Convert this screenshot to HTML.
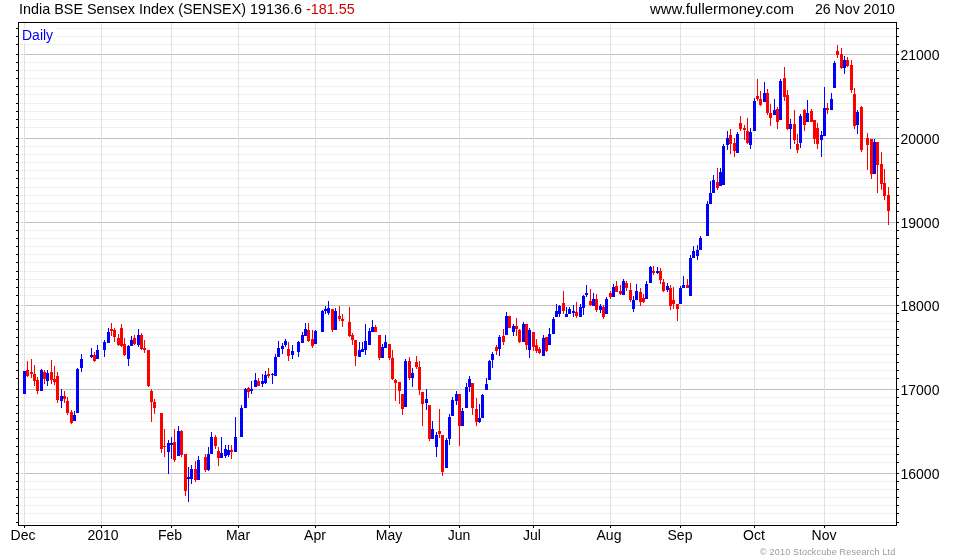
<!DOCTYPE html>
<html><head><meta charset="utf-8"><title>India BSE Sensex Index (SENSEX)</title>
<style>
html,body{margin:0;padding:0;background:#fff}
body{width:980px;height:560px;position:relative;overflow:hidden;font-family:"Liberation Sans",Arial,sans-serif}
.t{position:absolute;white-space:nowrap;font-size:14px;line-height:16px;color:#000}
</style></head><body>
<svg width="980" height="560" viewBox="0 0 980 560" shape-rendering="crispEdges" style="position:absolute;left:0;top:0">
<g fill="#f0f0f0">
<rect x="20" y="28" width="875" height="1"/>
<rect x="20" y="36" width="875" height="1"/>
<rect x="20" y="44" width="875" height="1"/>
<rect x="20" y="62" width="875" height="1"/>
<rect x="20" y="70" width="875" height="1"/>
<rect x="20" y="78" width="875" height="1"/>
<rect x="20" y="86" width="875" height="1"/>
<rect x="20" y="94" width="875" height="1"/>
<rect x="20" y="103" width="875" height="1"/>
<rect x="20" y="111" width="875" height="1"/>
<rect x="20" y="119" width="875" height="1"/>
<rect x="20" y="127" width="875" height="1"/>
<rect x="20" y="146" width="875" height="1"/>
<rect x="20" y="154" width="875" height="1"/>
<rect x="20" y="162" width="875" height="1"/>
<rect x="20" y="170" width="875" height="1"/>
<rect x="20" y="178" width="875" height="1"/>
<rect x="20" y="187" width="875" height="1"/>
<rect x="20" y="195" width="875" height="1"/>
<rect x="20" y="203" width="875" height="1"/>
<rect x="20" y="211" width="875" height="1"/>
<rect x="20" y="230" width="875" height="1"/>
<rect x="20" y="238" width="875" height="1"/>
<rect x="20" y="246" width="875" height="1"/>
<rect x="20" y="254" width="875" height="1"/>
<rect x="20" y="262" width="875" height="1"/>
<rect x="20" y="271" width="875" height="1"/>
<rect x="20" y="279" width="875" height="1"/>
<rect x="20" y="287" width="875" height="1"/>
<rect x="20" y="295" width="875" height="1"/>
<rect x="20" y="313" width="875" height="1"/>
<rect x="20" y="321" width="875" height="1"/>
<rect x="20" y="329" width="875" height="1"/>
<rect x="20" y="337" width="875" height="1"/>
<rect x="20" y="345" width="875" height="1"/>
<rect x="20" y="354" width="875" height="1"/>
<rect x="20" y="362" width="875" height="1"/>
<rect x="20" y="370" width="875" height="1"/>
<rect x="20" y="378" width="875" height="1"/>
<rect x="20" y="397" width="875" height="1"/>
<rect x="20" y="405" width="875" height="1"/>
<rect x="20" y="413" width="875" height="1"/>
<rect x="20" y="421" width="875" height="1"/>
<rect x="20" y="429" width="875" height="1"/>
<rect x="20" y="438" width="875" height="1"/>
<rect x="20" y="446" width="875" height="1"/>
<rect x="20" y="454" width="875" height="1"/>
<rect x="20" y="462" width="875" height="1"/>
<rect x="20" y="481" width="875" height="1"/>
<rect x="20" y="489" width="875" height="1"/>
<rect x="20" y="497" width="875" height="1"/>
<rect x="20" y="505" width="875" height="1"/>
<rect x="20" y="513" width="875" height="1"/>
<rect x="20" y="522" width="875" height="1"/>
</g>
<g fill="#c0c0c0">
<rect x="19" y="54" width="877" height="1"/>
<rect x="19" y="138" width="877" height="1"/>
<rect x="19" y="222" width="877" height="1"/>
<rect x="19" y="305" width="877" height="1"/>
<rect x="19" y="389" width="877" height="1"/>
<rect x="19" y="473" width="877" height="1"/>
</g>
<g fill="#dadada">
<rect x="19" y="54" width="5" height="1"/><rect x="895" y="54" width="1" height="1"/>
<rect x="19" y="138" width="5" height="1"/><rect x="895" y="138" width="1" height="1"/>
<rect x="19" y="222" width="5" height="1"/><rect x="895" y="222" width="1" height="1"/>
<rect x="19" y="305" width="5" height="1"/><rect x="895" y="305" width="1" height="1"/>
<rect x="19" y="389" width="5" height="1"/><rect x="895" y="389" width="1" height="1"/>
<rect x="19" y="473" width="5" height="1"/><rect x="895" y="473" width="1" height="1"/>
</g>
<g fill="#e0e0e0">
<rect x="24" y="23" width="1" height="502"/>
<rect x="101" y="23" width="1" height="502"/>
<rect x="171" y="23" width="1" height="502"/>
<rect x="238" y="23" width="1" height="502"/>
<rect x="315" y="23" width="1" height="502"/>
<rect x="389" y="23" width="1" height="502"/>
<rect x="459" y="23" width="1" height="502"/>
<rect x="533" y="23" width="1" height="502"/>
<rect x="610" y="23" width="1" height="502"/>
<rect x="680" y="23" width="1" height="502"/>
<rect x="754" y="23" width="1" height="502"/>
<rect x="824" y="23" width="1" height="502"/>
</g>
<rect x="20" y="28" width="36" height="15" fill="#fff"/>
<g>
<g fill="#0000ff"><rect x="24" y="371" width="1" height="23"/><rect x="23" y="371" width="3" height="23"/></g>
<g fill="#ff0000"><rect x="27" y="361" width="1" height="16"/><rect x="26" y="370" width="3" height="6"/></g>
<g fill="#ff0000"><rect x="31" y="359" width="1" height="19"/><rect x="30" y="372" width="3" height="2"/></g>
<g fill="#ff0000"><rect x="34" y="365" width="1" height="21"/><rect x="33" y="374" width="3" height="7"/></g>
<g fill="#ff0000"><rect x="37" y="377" width="1" height="17"/><rect x="36" y="380" width="3" height="11"/></g>
<g fill="#0000ff"><rect x="41" y="369" width="1" height="22"/><rect x="40" y="370" width="3" height="21"/></g>
<g fill="#ff0000"><rect x="44" y="370" width="1" height="14"/><rect x="43" y="372" width="3" height="7"/></g>
<g fill="#0000ff"><rect x="47" y="370" width="1" height="16"/><rect x="46" y="373" width="3" height="8"/></g>
<g fill="#ff0000"><rect x="51" y="360" width="1" height="24"/><rect x="50" y="372" width="3" height="8"/></g>
<g fill="#ff0000"><rect x="54" y="366" width="1" height="19"/><rect x="53" y="379" width="3" height="3"/></g>
<g fill="#ff0000"><rect x="57" y="372" width="1" height="31"/><rect x="56" y="376" width="3" height="24"/></g>
<g fill="#0000ff"><rect x="61" y="389" width="1" height="19"/><rect x="60" y="396" width="3" height="5"/></g>
<g fill="#ff0000"><rect x="64" y="391" width="1" height="12"/><rect x="63" y="396" width="3" height="3"/></g>
<g fill="#ff0000"><rect x="67" y="397" width="1" height="18"/><rect x="66" y="401" width="3" height="12"/></g>
<g fill="#ff0000"><rect x="71" y="410" width="1" height="14"/><rect x="70" y="412" width="3" height="11"/></g>
<g fill="#0000ff"><rect x="74" y="411" width="1" height="10"/><rect x="73" y="415" width="3" height="6"/></g>
<g fill="#0000ff"><rect x="77" y="368" width="1" height="45"/><rect x="76" y="369" width="3" height="44"/></g>
<g fill="#0000ff"><rect x="81" y="354" width="1" height="18"/><rect x="80" y="359" width="3" height="9"/></g>
<g fill="#0000ff"><rect x="91" y="348" width="1" height="10"/><rect x="90" y="355" width="3" height="2"/></g>
<g fill="#ff0000"><rect x="94" y="352" width="1" height="10"/><rect x="93" y="355" width="3" height="6"/></g>
<g fill="#0000ff"><rect x="97" y="345" width="1" height="14"/><rect x="96" y="350" width="3" height="9"/></g>
<g fill="#0000ff"><rect x="104" y="340" width="1" height="17"/><rect x="103" y="342" width="3" height="8"/></g>
<g fill="#0000ff"><rect x="108" y="328" width="1" height="15"/><rect x="107" y="332" width="3" height="11"/></g>
<g fill="#ff0000"><rect x="111" y="323" width="1" height="13"/><rect x="110" y="329" width="3" height="2"/></g>
<g fill="#ff0000"><rect x="114" y="328" width="1" height="14"/><rect x="113" y="330" width="3" height="7"/></g>
<g fill="#ff0000"><rect x="118" y="334" width="1" height="12"/><rect x="117" y="338" width="3" height="7"/></g>
<g fill="#ff0000"><rect x="121" y="324" width="1" height="23"/><rect x="120" y="328" width="3" height="18"/></g>
<g fill="#ff0000"><rect x="124" y="338" width="1" height="18"/><rect x="123" y="344" width="3" height="11"/></g>
<g fill="#0000ff"><rect x="128" y="345" width="1" height="21"/><rect x="127" y="346" width="3" height="13"/></g>
<g fill="#0000ff"><rect x="131" y="336" width="1" height="10"/><rect x="130" y="340" width="3" height="6"/></g>
<g fill="#ff0000"><rect x="134" y="335" width="1" height="10"/><rect x="133" y="338" width="3" height="6"/></g>
<g fill="#0000ff"><rect x="138" y="329" width="1" height="18"/><rect x="137" y="335" width="3" height="10"/></g>
<g fill="#ff0000"><rect x="141" y="333" width="1" height="17"/><rect x="140" y="335" width="3" height="14"/></g>
<g fill="#ff0000"><rect x="144" y="340" width="1" height="13"/><rect x="143" y="348" width="3" height="2"/></g>
<g fill="#ff0000"><rect x="148" y="350" width="1" height="37"/><rect x="147" y="350" width="3" height="36"/></g>
<g fill="#ff0000"><rect x="151" y="389" width="1" height="33"/><rect x="150" y="391" width="3" height="11"/></g>
<g fill="#ff0000"><rect x="154" y="399" width="1" height="15"/><rect x="153" y="402" width="3" height="6"/></g>
<g fill="#ff0000"><rect x="161" y="413" width="1" height="40"/><rect x="160" y="413" width="3" height="36"/></g>
<g fill="#ff0000"><rect x="164" y="429" width="1" height="28"/><rect x="163" y="446" width="3" height="1"/></g>
<g fill="#0000ff"><rect x="168" y="440" width="1" height="34"/><rect x="167" y="443" width="3" height="9"/></g>
<g fill="#0000ff"><rect x="171" y="437" width="1" height="22"/><rect x="170" y="443" width="3" height="2"/></g>
<g fill="#ff0000"><rect x="174" y="429" width="1" height="33"/><rect x="173" y="442" width="3" height="18"/></g>
<g fill="#0000ff"><rect x="178" y="426" width="1" height="30"/><rect x="177" y="431" width="3" height="25"/></g>
<g fill="#ff0000"><rect x="181" y="430" width="1" height="27"/><rect x="180" y="431" width="3" height="24"/></g>
<g fill="#ff0000"><rect x="185" y="454" width="1" height="42"/><rect x="184" y="454" width="3" height="37"/></g>
<g fill="#0000ff"><rect x="188" y="467" width="1" height="35"/><rect x="187" y="477" width="3" height="2"/></g>
<g fill="#0000ff"><rect x="191" y="465" width="1" height="19"/><rect x="190" y="469" width="3" height="10"/></g>
<g fill="#ff0000"><rect x="195" y="461" width="1" height="21"/><rect x="194" y="469" width="3" height="11"/></g>
<g fill="#0000ff"><rect x="198" y="456" width="1" height="24"/><rect x="197" y="460" width="3" height="20"/></g>
<g fill="#ff0000"><rect x="205" y="454" width="1" height="18"/><rect x="204" y="457" width="3" height="13"/></g>
<g fill="#0000ff"><rect x="208" y="447" width="1" height="24"/><rect x="207" y="454" width="3" height="16"/></g>
<g fill="#0000ff"><rect x="211" y="432" width="1" height="22"/><rect x="210" y="437" width="3" height="17"/></g>
<g fill="#ff0000"><rect x="215" y="435" width="1" height="14"/><rect x="214" y="437" width="3" height="9"/></g>
<g fill="#ff0000"><rect x="218" y="447" width="1" height="19"/><rect x="217" y="451" width="3" height="7"/></g>
<g fill="#0000ff"><rect x="221" y="437" width="1" height="21"/><rect x="220" y="453" width="3" height="5"/></g>
<g fill="#0000ff"><rect x="225" y="445" width="1" height="13"/><rect x="224" y="449" width="3" height="7"/></g>
<g fill="#0000ff"><rect x="228" y="445" width="1" height="12"/><rect x="227" y="450" width="3" height="5"/></g>
<g fill="#ff0000"><rect x="231" y="445" width="1" height="14"/><rect x="230" y="450" width="3" height="2"/></g>
<g fill="#0000ff"><rect x="235" y="417" width="1" height="35"/><rect x="234" y="437" width="3" height="15"/></g>
<g fill="#0000ff"><rect x="241" y="405" width="1" height="32"/><rect x="240" y="408" width="3" height="29"/></g>
<g fill="#0000ff"><rect x="245" y="388" width="1" height="20"/><rect x="244" y="389" width="3" height="19"/></g>
<g fill="#ff0000"><rect x="248" y="387" width="1" height="11"/><rect x="247" y="388" width="3" height="4"/></g>
<g fill="#0000ff"><rect x="251" y="381" width="1" height="13"/><rect x="250" y="389" width="3" height="2"/></g>
<g fill="#0000ff"><rect x="255" y="373" width="1" height="14"/><rect x="254" y="380" width="3" height="7"/></g>
<g fill="#ff0000"><rect x="258" y="378" width="1" height="8"/><rect x="257" y="381" width="3" height="5"/></g>
<g fill="#0000ff"><rect x="262" y="374" width="1" height="13"/><rect x="261" y="381" width="3" height="3"/></g>
<g fill="#0000ff"><rect x="265" y="371" width="1" height="13"/><rect x="264" y="375" width="3" height="8"/></g>
<g fill="#ff0000"><rect x="268" y="368" width="1" height="10"/><rect x="267" y="374" width="3" height="2"/></g>
<g fill="#0000ff"><rect x="272" y="373" width="1" height="11"/><rect x="271" y="374" width="3" height="1"/></g>
<g fill="#0000ff"><rect x="275" y="354" width="1" height="22"/><rect x="274" y="357" width="3" height="19"/></g>
<g fill="#0000ff"><rect x="278" y="341" width="1" height="16"/><rect x="277" y="348" width="3" height="9"/></g>
<g fill="#0000ff"><rect x="282" y="343" width="1" height="11"/><rect x="281" y="346" width="3" height="3"/></g>
<g fill="#0000ff"><rect x="285" y="339" width="1" height="8"/><rect x="284" y="341" width="3" height="4"/></g>
<g fill="#ff0000"><rect x="288" y="342" width="1" height="19"/><rect x="287" y="349" width="3" height="7"/></g>
<g fill="#0000ff"><rect x="292" y="345" width="1" height="14"/><rect x="291" y="351" width="3" height="4"/></g>
<g fill="#0000ff"><rect x="298" y="341" width="1" height="16"/><rect x="297" y="342" width="3" height="10"/></g>
<g fill="#0000ff"><rect x="302" y="332" width="1" height="11"/><rect x="301" y="335" width="3" height="8"/></g>
<g fill="#0000ff"><rect x="305" y="323" width="1" height="13"/><rect x="304" y="329" width="3" height="7"/></g>
<g fill="#ff0000"><rect x="308" y="323" width="1" height="19"/><rect x="307" y="330" width="3" height="11"/></g>
<g fill="#ff0000"><rect x="312" y="330" width="1" height="18"/><rect x="311" y="339" width="3" height="7"/></g>
<g fill="#0000ff"><rect x="315" y="330" width="1" height="14"/><rect x="314" y="331" width="3" height="13"/></g>
<g fill="#0000ff"><rect x="322" y="310" width="1" height="22"/><rect x="321" y="311" width="3" height="21"/></g>
<g fill="#0000ff"><rect x="325" y="306" width="1" height="8"/><rect x="324" y="309" width="3" height="2"/></g>
<g fill="#0000ff"><rect x="328" y="301" width="1" height="14"/><rect x="327" y="308" width="3" height="5"/></g>
<g fill="#ff0000"><rect x="332" y="309" width="1" height="23"/><rect x="331" y="309" width="3" height="21"/></g>
<g fill="#0000ff"><rect x="335" y="308" width="1" height="22"/><rect x="334" y="311" width="3" height="19"/></g>
<g fill="#ff0000"><rect x="339" y="306" width="1" height="15"/><rect x="338" y="316" width="3" height="3"/></g>
<g fill="#ff0000"><rect x="342" y="314" width="1" height="13"/><rect x="341" y="319" width="3" height="2"/></g>
<g fill="#ff0000"><rect x="349" y="307" width="1" height="30"/><rect x="348" y="322" width="3" height="14"/></g>
<g fill="#ff0000"><rect x="352" y="333" width="1" height="12"/><rect x="351" y="335" width="3" height="5"/></g>
<g fill="#ff0000"><rect x="355" y="340" width="1" height="26"/><rect x="354" y="340" width="3" height="16"/></g>
<g fill="#0000ff"><rect x="359" y="342" width="1" height="15"/><rect x="358" y="350" width="3" height="7"/></g>
<g fill="#0000ff"><rect x="362" y="342" width="1" height="10"/><rect x="361" y="349" width="3" height="3"/></g>
<g fill="#0000ff"><rect x="365" y="324" width="1" height="31"/><rect x="364" y="341" width="3" height="9"/></g>
<g fill="#0000ff"><rect x="369" y="328" width="1" height="17"/><rect x="368" y="331" width="3" height="14"/></g>
<g fill="#0000ff"><rect x="372" y="320" width="1" height="12"/><rect x="371" y="327" width="3" height="5"/></g>
<g fill="#ff0000"><rect x="375" y="325" width="1" height="7"/><rect x="374" y="327" width="3" height="5"/></g>
<g fill="#ff0000"><rect x="379" y="335" width="1" height="25"/><rect x="378" y="335" width="3" height="23"/></g>
<g fill="#0000ff"><rect x="382" y="344" width="1" height="14"/><rect x="381" y="347" width="3" height="11"/></g>
<g fill="#0000ff"><rect x="385" y="335" width="1" height="13"/><rect x="384" y="342" width="3" height="6"/></g>
<g fill="#ff0000"><rect x="389" y="344" width="1" height="16"/><rect x="388" y="344" width="3" height="14"/></g>
<g fill="#ff0000"><rect x="392" y="350" width="1" height="30"/><rect x="391" y="358" width="3" height="21"/></g>
<g fill="#ff0000"><rect x="395" y="379" width="1" height="22"/><rect x="394" y="380" width="3" height="3"/></g>
<g fill="#ff0000"><rect x="399" y="382" width="1" height="22"/><rect x="398" y="382" width="3" height="9"/></g>
<g fill="#ff0000"><rect x="402" y="394" width="1" height="21"/><rect x="401" y="394" width="3" height="15"/></g>
<g fill="#0000ff"><rect x="405" y="359" width="1" height="48"/><rect x="404" y="361" width="3" height="46"/></g>
<g fill="#ff0000"><rect x="409" y="357" width="1" height="23"/><rect x="408" y="361" width="3" height="17"/></g>
<g fill="#0000ff"><rect x="412" y="368" width="1" height="19"/><rect x="411" y="373" width="3" height="5"/></g>
<g fill="#ff0000"><rect x="416" y="356" width="1" height="13"/><rect x="415" y="362" width="3" height="5"/></g>
<g fill="#ff0000"><rect x="419" y="361" width="1" height="34"/><rect x="418" y="367" width="3" height="23"/></g>
<g fill="#ff0000"><rect x="422" y="392" width="1" height="34"/><rect x="421" y="392" width="3" height="12"/></g>
<g fill="#0000ff"><rect x="426" y="389" width="1" height="21"/><rect x="425" y="399" width="3" height="4"/></g>
<g fill="#ff0000"><rect x="429" y="405" width="1" height="36"/><rect x="428" y="405" width="3" height="34"/></g>
<g fill="#0000ff"><rect x="432" y="421" width="1" height="18"/><rect x="431" y="429" width="3" height="10"/></g>
<g fill="#0000ff"><rect x="436" y="432" width="1" height="25"/><rect x="435" y="435" width="3" height="12"/></g>
<g fill="#ff0000"><rect x="439" y="409" width="1" height="29"/><rect x="438" y="431" width="3" height="3"/></g>
<g fill="#ff0000"><rect x="442" y="435" width="1" height="41"/><rect x="441" y="435" width="3" height="37"/></g>
<g fill="#0000ff"><rect x="446" y="438" width="1" height="30"/><rect x="445" y="440" width="3" height="28"/></g>
<g fill="#0000ff"><rect x="449" y="414" width="1" height="31"/><rect x="448" y="417" width="3" height="22"/></g>
<g fill="#0000ff"><rect x="452" y="397" width="1" height="19"/><rect x="451" y="400" width="3" height="16"/></g>
<g fill="#0000ff"><rect x="456" y="391" width="1" height="14"/><rect x="455" y="394" width="3" height="7"/></g>
<g fill="#ff0000"><rect x="459" y="394" width="1" height="52"/><rect x="458" y="394" width="3" height="32"/></g>
<g fill="#0000ff"><rect x="462" y="408" width="1" height="18"/><rect x="461" y="411" width="3" height="15"/></g>
<g fill="#0000ff"><rect x="466" y="383" width="1" height="25"/><rect x="465" y="387" width="3" height="21"/></g>
<g fill="#0000ff"><rect x="469" y="376" width="1" height="16"/><rect x="468" y="379" width="3" height="8"/></g>
<g fill="#ff0000"><rect x="472" y="383" width="1" height="32"/><rect x="471" y="383" width="3" height="25"/></g>
<g fill="#ff0000"><rect x="476" y="398" width="1" height="28"/><rect x="475" y="409" width="3" height="13"/></g>
<g fill="#0000ff"><rect x="479" y="404" width="1" height="19"/><rect x="478" y="418" width="3" height="4"/></g>
<g fill="#0000ff"><rect x="482" y="394" width="1" height="24"/><rect x="481" y="395" width="3" height="23"/></g>
<g fill="#0000ff"><rect x="486" y="378" width="1" height="12"/><rect x="485" y="384" width="3" height="6"/></g>
<g fill="#0000ff"><rect x="489" y="360" width="1" height="20"/><rect x="488" y="361" width="3" height="19"/></g>
<g fill="#0000ff"><rect x="492" y="352" width="1" height="16"/><rect x="491" y="354" width="3" height="6"/></g>
<g fill="#ff0000"><rect x="496" y="345" width="1" height="10"/><rect x="495" y="347" width="3" height="4"/></g>
<g fill="#0000ff"><rect x="499" y="335" width="1" height="21"/><rect x="498" y="337" width="3" height="12"/></g>
<g fill="#ff0000"><rect x="503" y="329" width="1" height="16"/><rect x="502" y="336" width="3" height="6"/></g>
<g fill="#0000ff"><rect x="506" y="312" width="1" height="23"/><rect x="505" y="316" width="3" height="19"/></g>
<g fill="#ff0000"><rect x="509" y="316" width="1" height="12"/><rect x="508" y="316" width="3" height="12"/></g>
<g fill="#0000ff"><rect x="513" y="324" width="1" height="12"/><rect x="512" y="326" width="3" height="6"/></g>
<g fill="#ff0000"><rect x="516" y="318" width="1" height="18"/><rect x="515" y="326" width="3" height="3"/></g>
<g fill="#ff0000"><rect x="519" y="329" width="1" height="14"/><rect x="518" y="330" width="3" height="12"/></g>
<g fill="#0000ff"><rect x="523" y="322" width="1" height="20"/><rect x="522" y="324" width="3" height="18"/></g>
<g fill="#ff0000"><rect x="526" y="324" width="1" height="26"/><rect x="525" y="324" width="3" height="21"/></g>
<g fill="#0000ff"><rect x="529" y="328" width="1" height="30"/><rect x="528" y="330" width="3" height="20"/></g>
<g fill="#ff0000"><rect x="533" y="332" width="1" height="19"/><rect x="532" y="332" width="3" height="15"/></g>
<g fill="#ff0000"><rect x="536" y="339" width="1" height="14"/><rect x="535" y="345" width="3" height="6"/></g>
<g fill="#ff0000"><rect x="539" y="347" width="1" height="7"/><rect x="538" y="349" width="3" height="4"/></g>
<g fill="#0000ff"><rect x="543" y="335" width="1" height="21"/><rect x="542" y="338" width="3" height="18"/></g>
<g fill="#ff0000"><rect x="546" y="337" width="1" height="15"/><rect x="545" y="337" width="3" height="14"/></g>
<g fill="#0000ff"><rect x="549" y="328" width="1" height="17"/><rect x="548" y="334" width="3" height="11"/></g>
<g fill="#0000ff"><rect x="553" y="317" width="1" height="17"/><rect x="552" y="319" width="3" height="15"/></g>
<g fill="#0000ff"><rect x="556" y="304" width="1" height="13"/><rect x="555" y="311" width="3" height="6"/></g>
<g fill="#0000ff"><rect x="559" y="305" width="1" height="12"/><rect x="558" y="306" width="3" height="8"/></g>
<g fill="#ff0000"><rect x="563" y="291" width="1" height="23"/><rect x="562" y="303" width="3" height="8"/></g>
<g fill="#0000ff"><rect x="566" y="307" width="1" height="10"/><rect x="565" y="314" width="3" height="3"/></g>
<g fill="#0000ff"><rect x="569" y="307" width="1" height="7"/><rect x="568" y="309" width="3" height="5"/></g>
<g fill="#0000ff"><rect x="573" y="305" width="1" height="12"/><rect x="572" y="311" width="3" height="2"/></g>
<g fill="#ff0000"><rect x="576" y="302" width="1" height="16"/><rect x="575" y="312" width="3" height="4"/></g>
<g fill="#0000ff"><rect x="580" y="304" width="1" height="13"/><rect x="579" y="307" width="3" height="10"/></g>
<g fill="#0000ff"><rect x="583" y="295" width="1" height="20"/><rect x="582" y="296" width="3" height="12"/></g>
<g fill="#0000ff"><rect x="586" y="285" width="1" height="12"/><rect x="585" y="293" width="3" height="2"/></g>
<g fill="#ff0000"><rect x="590" y="289" width="1" height="17"/><rect x="589" y="301" width="3" height="4"/></g>
<g fill="#0000ff"><rect x="593" y="293" width="1" height="13"/><rect x="592" y="299" width="3" height="7"/></g>
<g fill="#ff0000"><rect x="596" y="294" width="1" height="18"/><rect x="595" y="299" width="3" height="11"/></g>
<g fill="#0000ff"><rect x="600" y="304" width="1" height="9"/><rect x="599" y="306" width="3" height="4"/></g>
<g fill="#ff0000"><rect x="603" y="305" width="1" height="14"/><rect x="602" y="307" width="3" height="10"/></g>
<g fill="#0000ff"><rect x="606" y="297" width="1" height="17"/><rect x="605" y="299" width="3" height="15"/></g>
<g fill="#ff0000"><rect x="610" y="291" width="1" height="8"/><rect x="609" y="293" width="3" height="4"/></g>
<g fill="#0000ff"><rect x="613" y="284" width="1" height="13"/><rect x="612" y="287" width="3" height="10"/></g>
<g fill="#ff0000"><rect x="616" y="281" width="1" height="11"/><rect x="615" y="286" width="3" height="6"/></g>
<g fill="#ff0000"><rect x="620" y="285" width="1" height="10"/><rect x="619" y="291" width="3" height="3"/></g>
<g fill="#0000ff"><rect x="623" y="279" width="1" height="16"/><rect x="622" y="281" width="3" height="14"/></g>
<g fill="#ff0000"><rect x="626" y="281" width="1" height="10"/><rect x="625" y="283" width="3" height="5"/></g>
<g fill="#ff0000"><rect x="630" y="283" width="1" height="19"/><rect x="629" y="290" width="3" height="10"/></g>
<g fill="#0000ff"><rect x="633" y="296" width="1" height="16"/><rect x="632" y="300" width="3" height="9"/></g>
<g fill="#0000ff"><rect x="636" y="284" width="1" height="16"/><rect x="635" y="291" width="3" height="9"/></g>
<g fill="#ff0000"><rect x="640" y="288" width="1" height="18"/><rect x="639" y="292" width="3" height="10"/></g>
<g fill="#ff0000"><rect x="643" y="294" width="1" height="9"/><rect x="642" y="298" width="3" height="4"/></g>
<g fill="#0000ff"><rect x="646" y="281" width="1" height="18"/><rect x="645" y="284" width="3" height="15"/></g>
<g fill="#0000ff"><rect x="650" y="266" width="1" height="17"/><rect x="649" y="267" width="3" height="16"/></g>
<g fill="#ff0000"><rect x="653" y="266" width="1" height="9"/><rect x="652" y="271" width="3" height="2"/></g>
<g fill="#0000ff"><rect x="657" y="267" width="1" height="7"/><rect x="656" y="271" width="3" height="2"/></g>
<g fill="#ff0000"><rect x="660" y="268" width="1" height="16"/><rect x="659" y="271" width="3" height="9"/></g>
<g fill="#ff0000"><rect x="663" y="279" width="1" height="13"/><rect x="662" y="282" width="3" height="9"/></g>
<g fill="#0000ff"><rect x="667" y="283" width="1" height="9"/><rect x="666" y="286" width="3" height="4"/></g>
<g fill="#ff0000"><rect x="670" y="285" width="1" height="25"/><rect x="669" y="288" width="3" height="18"/></g>
<g fill="#ff0000"><rect x="673" y="287" width="1" height="22"/><rect x="672" y="300" width="3" height="4"/></g>
<g fill="#ff0000"><rect x="677" y="304" width="1" height="17"/><rect x="676" y="304" width="3" height="5"/></g>
<g fill="#0000ff"><rect x="680" y="286" width="1" height="18"/><rect x="679" y="288" width="3" height="16"/></g>
<g fill="#0000ff"><rect x="683" y="276" width="1" height="12"/><rect x="682" y="285" width="3" height="3"/></g>
<g fill="#ff0000"><rect x="687" y="279" width="1" height="9"/><rect x="686" y="285" width="3" height="3"/></g>
<g fill="#0000ff"><rect x="690" y="255" width="1" height="41"/><rect x="689" y="258" width="3" height="38"/></g>
<g fill="#0000ff"><rect x="693" y="246" width="1" height="12"/><rect x="692" y="251" width="3" height="7"/></g>
<g fill="#0000ff"><rect x="697" y="245" width="1" height="15"/><rect x="696" y="250" width="3" height="6"/></g>
<g fill="#0000ff"><rect x="700" y="236" width="1" height="14"/><rect x="699" y="238" width="3" height="12"/></g>
<g fill="#0000ff"><rect x="707" y="201" width="1" height="35"/><rect x="706" y="204" width="3" height="32"/></g>
<g fill="#0000ff"><rect x="710" y="181" width="1" height="23"/><rect x="709" y="193" width="3" height="11"/></g>
<g fill="#0000ff"><rect x="713" y="175" width="1" height="18"/><rect x="712" y="180" width="3" height="13"/></g>
<g fill="#ff0000"><rect x="717" y="168" width="1" height="22"/><rect x="716" y="182" width="3" height="6"/></g>
<g fill="#0000ff"><rect x="720" y="168" width="1" height="18"/><rect x="719" y="172" width="3" height="14"/></g>
<g fill="#0000ff"><rect x="723" y="144" width="1" height="41"/><rect x="722" y="146" width="3" height="39"/></g>
<g fill="#0000ff"><rect x="727" y="131" width="1" height="19"/><rect x="726" y="138" width="3" height="7"/></g>
<g fill="#ff0000"><rect x="730" y="129" width="1" height="25"/><rect x="729" y="135" width="3" height="9"/></g>
<g fill="#ff0000"><rect x="734" y="138" width="1" height="19"/><rect x="733" y="143" width="3" height="8"/></g>
<g fill="#0000ff"><rect x="737" y="132" width="1" height="21"/><rect x="736" y="134" width="3" height="19"/></g>
<g fill="#ff0000"><rect x="740" y="116" width="1" height="15"/><rect x="739" y="123" width="3" height="6"/></g>
<g fill="#ff0000"><rect x="744" y="125" width="1" height="15"/><rect x="743" y="128" width="3" height="2"/></g>
<g fill="#ff0000"><rect x="747" y="118" width="1" height="26"/><rect x="746" y="131" width="3" height="12"/></g>
<g fill="#0000ff"><rect x="750" y="128" width="1" height="21"/><rect x="749" y="132" width="3" height="13"/></g>
<g fill="#0000ff"><rect x="754" y="98" width="1" height="33"/><rect x="753" y="101" width="3" height="30"/></g>
<g fill="#ff0000"><rect x="757" y="79" width="1" height="22"/><rect x="756" y="96" width="3" height="3"/></g>
<g fill="#ff0000"><rect x="760" y="91" width="1" height="15"/><rect x="759" y="99" width="3" height="6"/></g>
<g fill="#0000ff"><rect x="764" y="82" width="1" height="20"/><rect x="763" y="93" width="3" height="9"/></g>
<g fill="#ff0000"><rect x="767" y="89" width="1" height="26"/><rect x="766" y="93" width="3" height="20"/></g>
<g fill="#ff0000"><rect x="770" y="104" width="1" height="22"/><rect x="769" y="113" width="3" height="5"/></g>
<g fill="#0000ff"><rect x="774" y="99" width="1" height="16"/><rect x="773" y="110" width="3" height="5"/></g>
<g fill="#ff0000"><rect x="777" y="107" width="1" height="22"/><rect x="776" y="109" width="3" height="13"/></g>
<g fill="#0000ff"><rect x="780" y="79" width="1" height="41"/><rect x="779" y="81" width="3" height="39"/></g>
<g fill="#ff0000"><rect x="784" y="67" width="1" height="34"/><rect x="783" y="78" width="3" height="19"/></g>
<g fill="#ff0000"><rect x="787" y="90" width="1" height="40"/><rect x="786" y="95" width="3" height="34"/></g>
<g fill="#0000ff"><rect x="790" y="119" width="1" height="30"/><rect x="789" y="124" width="3" height="5"/></g>
<g fill="#ff0000"><rect x="794" y="110" width="1" height="34"/><rect x="793" y="124" width="3" height="16"/></g>
<g fill="#ff0000"><rect x="797" y="134" width="1" height="19"/><rect x="796" y="144" width="3" height="6"/></g>
<g fill="#0000ff"><rect x="800" y="114" width="1" height="34"/><rect x="799" y="116" width="3" height="27"/></g>
<g fill="#ff0000"><rect x="804" y="109" width="1" height="22"/><rect x="803" y="110" width="3" height="15"/></g>
<g fill="#0000ff"><rect x="807" y="100" width="1" height="22"/><rect x="806" y="113" width="3" height="9"/></g>
<g fill="#ff0000"><rect x="811" y="109" width="1" height="13"/><rect x="810" y="111" width="3" height="11"/></g>
<g fill="#ff0000"><rect x="814" y="120" width="1" height="24"/><rect x="813" y="120" width="3" height="19"/></g>
<g fill="#ff0000"><rect x="817" y="123" width="1" height="26"/><rect x="816" y="128" width="3" height="16"/></g>
<g fill="#0000ff"><rect x="821" y="131" width="1" height="26"/><rect x="820" y="135" width="3" height="5"/></g>
<g fill="#0000ff"><rect x="824" y="87" width="1" height="49"/><rect x="823" y="108" width="3" height="28"/></g>
<g fill="#ff0000"><rect x="827" y="103" width="1" height="11"/><rect x="826" y="108" width="3" height="2"/></g>
<g fill="#0000ff"><rect x="831" y="93" width="1" height="17"/><rect x="830" y="99" width="3" height="11"/></g>
<g fill="#0000ff"><rect x="834" y="61" width="1" height="27"/><rect x="833" y="63" width="3" height="25"/></g>
<g fill="#ff0000"><rect x="837" y="45" width="1" height="13"/><rect x="836" y="51" width="3" height="4"/></g>
<g fill="#ff0000"><rect x="841" y="48" width="1" height="21"/><rect x="840" y="54" width="3" height="14"/></g>
<g fill="#0000ff"><rect x="844" y="56" width="1" height="18"/><rect x="843" y="60" width="3" height="8"/></g>
<g fill="#ff0000"><rect x="847" y="57" width="1" height="10"/><rect x="846" y="60" width="3" height="6"/></g>
<g fill="#ff0000"><rect x="851" y="60" width="1" height="33"/><rect x="850" y="65" width="3" height="25"/></g>
<g fill="#ff0000"><rect x="854" y="88" width="1" height="41"/><rect x="853" y="94" width="3" height="32"/></g>
<g fill="#0000ff"><rect x="857" y="110" width="1" height="24"/><rect x="856" y="112" width="3" height="13"/></g>
<g fill="#ff0000"><rect x="861" y="106" width="1" height="46"/><rect x="860" y="107" width="3" height="43"/></g>
<g fill="#ff0000"><rect x="867" y="133" width="1" height="37"/><rect x="866" y="138" width="3" height="7"/></g>
<g fill="#ff0000"><rect x="871" y="139" width="1" height="40"/><rect x="870" y="139" width="3" height="35"/></g>
<g fill="#0000ff"><rect x="874" y="139" width="1" height="35"/><rect x="873" y="142" width="3" height="32"/></g>
<g fill="#ff0000"><rect x="877" y="142" width="1" height="51"/><rect x="876" y="142" width="3" height="23"/></g>
<g fill="#ff0000"><rect x="881" y="152" width="1" height="38"/><rect x="880" y="164" width="3" height="20"/></g>
<g fill="#ff0000"><rect x="884" y="169" width="1" height="31"/><rect x="883" y="183" width="3" height="13"/></g>
<g fill="#ff0000"><rect x="888" y="187" width="1" height="38"/><rect x="887" y="195" width="3" height="16"/></g>
</g>
<g fill="#000">
<rect x="18" y="22" width="879" height="1"/>
<rect x="18" y="525" width="879" height="1"/>
<rect x="18" y="22" width="1" height="504"/>
<rect x="896" y="22" width="1" height="504"/>
<rect x="16" y="28" width="2" height="1"/>
<rect x="897" y="28" width="2" height="1"/>
<rect x="16" y="36" width="2" height="1"/>
<rect x="897" y="36" width="2" height="1"/>
<rect x="16" y="44" width="2" height="1"/>
<rect x="897" y="44" width="2" height="1"/>
<rect x="16" y="62" width="2" height="1"/>
<rect x="897" y="62" width="2" height="1"/>
<rect x="16" y="70" width="2" height="1"/>
<rect x="897" y="70" width="2" height="1"/>
<rect x="16" y="78" width="2" height="1"/>
<rect x="897" y="78" width="2" height="1"/>
<rect x="16" y="86" width="2" height="1"/>
<rect x="897" y="86" width="2" height="1"/>
<rect x="16" y="94" width="2" height="1"/>
<rect x="897" y="94" width="2" height="1"/>
<rect x="16" y="103" width="2" height="1"/>
<rect x="897" y="103" width="2" height="1"/>
<rect x="16" y="111" width="2" height="1"/>
<rect x="897" y="111" width="2" height="1"/>
<rect x="16" y="119" width="2" height="1"/>
<rect x="897" y="119" width="2" height="1"/>
<rect x="16" y="127" width="2" height="1"/>
<rect x="897" y="127" width="2" height="1"/>
<rect x="16" y="146" width="2" height="1"/>
<rect x="897" y="146" width="2" height="1"/>
<rect x="16" y="154" width="2" height="1"/>
<rect x="897" y="154" width="2" height="1"/>
<rect x="16" y="162" width="2" height="1"/>
<rect x="897" y="162" width="2" height="1"/>
<rect x="16" y="170" width="2" height="1"/>
<rect x="897" y="170" width="2" height="1"/>
<rect x="16" y="178" width="2" height="1"/>
<rect x="897" y="178" width="2" height="1"/>
<rect x="16" y="187" width="2" height="1"/>
<rect x="897" y="187" width="2" height="1"/>
<rect x="16" y="195" width="2" height="1"/>
<rect x="897" y="195" width="2" height="1"/>
<rect x="16" y="203" width="2" height="1"/>
<rect x="897" y="203" width="2" height="1"/>
<rect x="16" y="211" width="2" height="1"/>
<rect x="897" y="211" width="2" height="1"/>
<rect x="16" y="230" width="2" height="1"/>
<rect x="897" y="230" width="2" height="1"/>
<rect x="16" y="238" width="2" height="1"/>
<rect x="897" y="238" width="2" height="1"/>
<rect x="16" y="246" width="2" height="1"/>
<rect x="897" y="246" width="2" height="1"/>
<rect x="16" y="254" width="2" height="1"/>
<rect x="897" y="254" width="2" height="1"/>
<rect x="16" y="262" width="2" height="1"/>
<rect x="897" y="262" width="2" height="1"/>
<rect x="16" y="271" width="2" height="1"/>
<rect x="897" y="271" width="2" height="1"/>
<rect x="16" y="279" width="2" height="1"/>
<rect x="897" y="279" width="2" height="1"/>
<rect x="16" y="287" width="2" height="1"/>
<rect x="897" y="287" width="2" height="1"/>
<rect x="16" y="295" width="2" height="1"/>
<rect x="897" y="295" width="2" height="1"/>
<rect x="16" y="313" width="2" height="1"/>
<rect x="897" y="313" width="2" height="1"/>
<rect x="16" y="321" width="2" height="1"/>
<rect x="897" y="321" width="2" height="1"/>
<rect x="16" y="329" width="2" height="1"/>
<rect x="897" y="329" width="2" height="1"/>
<rect x="16" y="337" width="2" height="1"/>
<rect x="897" y="337" width="2" height="1"/>
<rect x="16" y="345" width="2" height="1"/>
<rect x="897" y="345" width="2" height="1"/>
<rect x="16" y="354" width="2" height="1"/>
<rect x="897" y="354" width="2" height="1"/>
<rect x="16" y="362" width="2" height="1"/>
<rect x="897" y="362" width="2" height="1"/>
<rect x="16" y="370" width="2" height="1"/>
<rect x="897" y="370" width="2" height="1"/>
<rect x="16" y="378" width="2" height="1"/>
<rect x="897" y="378" width="2" height="1"/>
<rect x="16" y="397" width="2" height="1"/>
<rect x="897" y="397" width="2" height="1"/>
<rect x="16" y="405" width="2" height="1"/>
<rect x="897" y="405" width="2" height="1"/>
<rect x="16" y="413" width="2" height="1"/>
<rect x="897" y="413" width="2" height="1"/>
<rect x="16" y="421" width="2" height="1"/>
<rect x="897" y="421" width="2" height="1"/>
<rect x="16" y="429" width="2" height="1"/>
<rect x="897" y="429" width="2" height="1"/>
<rect x="16" y="438" width="2" height="1"/>
<rect x="897" y="438" width="2" height="1"/>
<rect x="16" y="446" width="2" height="1"/>
<rect x="897" y="446" width="2" height="1"/>
<rect x="16" y="454" width="2" height="1"/>
<rect x="897" y="454" width="2" height="1"/>
<rect x="16" y="462" width="2" height="1"/>
<rect x="897" y="462" width="2" height="1"/>
<rect x="16" y="481" width="2" height="1"/>
<rect x="897" y="481" width="2" height="1"/>
<rect x="16" y="489" width="2" height="1"/>
<rect x="897" y="489" width="2" height="1"/>
<rect x="16" y="497" width="2" height="1"/>
<rect x="897" y="497" width="2" height="1"/>
<rect x="16" y="505" width="2" height="1"/>
<rect x="897" y="505" width="2" height="1"/>
<rect x="16" y="513" width="2" height="1"/>
<rect x="897" y="513" width="2" height="1"/>
<rect x="16" y="522" width="2" height="1"/>
<rect x="897" y="522" width="2" height="1"/>
<rect x="16" y="54" width="2" height="1"/>
<rect x="897" y="54" width="2" height="1"/>
<rect x="16" y="138" width="2" height="1"/>
<rect x="897" y="138" width="2" height="1"/>
<rect x="16" y="222" width="2" height="1"/>
<rect x="897" y="222" width="2" height="1"/>
<rect x="16" y="305" width="2" height="1"/>
<rect x="897" y="305" width="2" height="1"/>
<rect x="16" y="389" width="2" height="1"/>
<rect x="897" y="389" width="2" height="1"/>
<rect x="16" y="473" width="2" height="1"/>
<rect x="897" y="473" width="2" height="1"/>
<rect x="24" y="526" width="1" height="2"/>
<rect x="101" y="526" width="1" height="2"/>
<rect x="171" y="526" width="1" height="2"/>
<rect x="238" y="526" width="1" height="2"/>
<rect x="315" y="526" width="1" height="2"/>
<rect x="389" y="526" width="1" height="2"/>
<rect x="459" y="526" width="1" height="2"/>
<rect x="533" y="526" width="1" height="2"/>
<rect x="610" y="526" width="1" height="2"/>
<rect x="680" y="526" width="1" height="2"/>
<rect x="754" y="526" width="1" height="2"/>
<rect x="824" y="526" width="1" height="2"/>
</g>
</svg>
<div class="t" style="left:19px;top:1px;font-size:15px;transform:scaleX(0.959);transform-origin:0 0">India BSE Sensex Index (SENSEX) 19136.6 <span style="color:#d00000">-181.55</span></div>
<div class="t" style="left:650px;top:1px;font-size:15px;transform:scaleX(0.995);transform-origin:0 0">www.fullermoney.com</div>
<div class="t" style="left:814.7px;top:1px;font-size:15px;transform:scaleX(0.94);transform-origin:0 0">26 Nov 2010</div>
<div class="t" style="left:22px;top:27px;color:#0000f0">Daily</div>
<div class="t" style="left:900.5px;top:47px">21000</div>
<div class="t" style="left:900.5px;top:131px">20000</div>
<div class="t" style="left:900.5px;top:215px">19000</div>
<div class="t" style="left:900.5px;top:298px">18000</div>
<div class="t" style="left:900.5px;top:382px">17000</div>
<div class="t" style="left:900.5px;top:466px">16000</div>
<div class="t" style="left:-17px;width:80px;text-align:center;top:527px">Dec</div>
<div class="t" style="left:63px;width:80px;text-align:center;top:527px">2010</div>
<div class="t" style="left:130px;width:80px;text-align:center;top:527px">Feb</div>
<div class="t" style="left:198px;width:80px;text-align:center;top:527px">Mar</div>
<div class="t" style="left:275px;width:80px;text-align:center;top:527px">Apr</div>
<div class="t" style="left:349px;width:80px;text-align:center;top:527px">May</div>
<div class="t" style="left:419px;width:80px;text-align:center;top:527px">Jun</div>
<div class="t" style="left:492px;width:80px;text-align:center;top:527px">Jul</div>
<div class="t" style="left:569px;width:80px;text-align:center;top:527px">Aug</div>
<div class="t" style="left:640px;width:80px;text-align:center;top:527px">Sep</div>
<div class="t" style="left:714px;width:80px;text-align:center;top:527px">Oct</div>
<div class="t" style="left:784px;width:80px;text-align:center;top:527px">Nov</div>
<div class="t" style="left:760px;top:547px;font-size:9px;line-height:11px;color:#999;letter-spacing:0.2px">© 2010 Stockcube Research Ltd</div>
</body></html>
